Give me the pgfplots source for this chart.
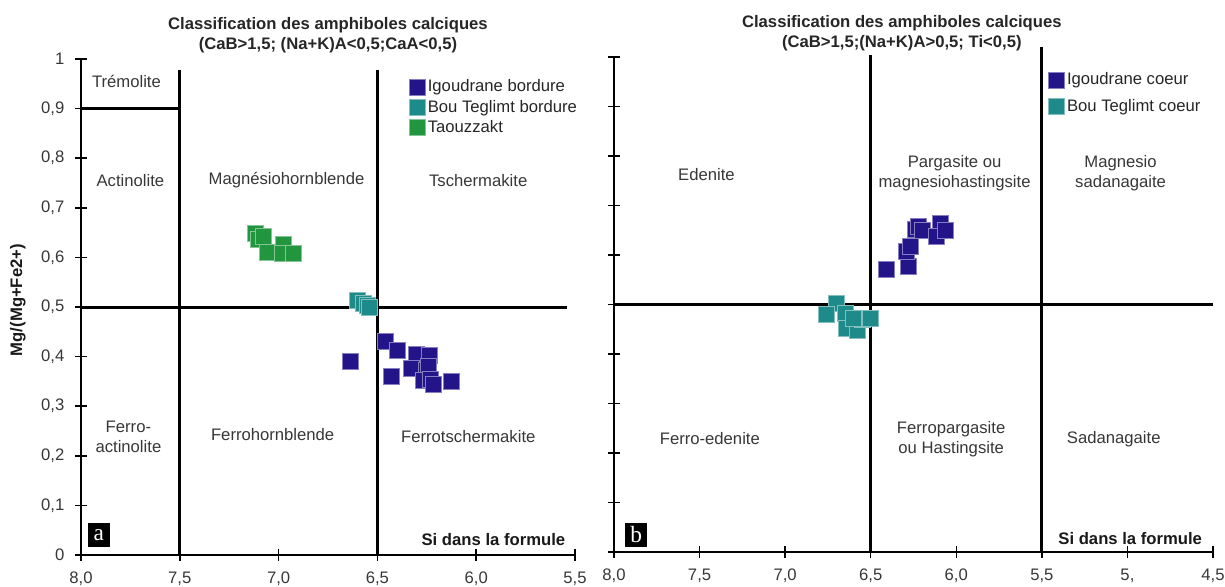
\documentclass[border=0pt]{standalone}
\usepackage{fontspec}
\setmainfont{Liberation Sans}
\newfontfamily\serifa{Liberation Serif}
\usepackage{pgfplots}
\pgfplotsset{compat=1.18}

\definecolor{igblue}{RGB}{36,20,138}
\definecolor{bteal}{RGB}{30,138,138}
\definecolor{tgreen}{RGB}{34,150,62}
\definecolor{lbl}{RGB}{55,55,55}

\pgfplotsset{
  amph/.style={
    scale only axis, x dir=reverse, ymin=0, ymax=1, clip=false,
    axis x line*=bottom, axis y line*=left,
    axis line style={-, line width=0.9pt, black},
    tick align=center, major tick length=7pt,
    tick style={line width=0.9pt, black},
    ytick={0,0.1,0.2,0.3,0.4,0.5,0.6,0.7,0.8,0.9,1},
    ticklabel style={font=\fontsize{10}{12}\selectfont, text=lbl},
    xticklabel style={yshift=-3pt},
    yticklabel style={xshift=-3pt},
    /pgf/number format/assume math mode=true,
    title style={font=\bfseries\fontsize{10}{12}\selectfont, align=center,
      text=black!85, yshift=-6pt},
    legend style={draw=none, fill=none, anchor=north west,
      font=\fontsize{10}{12}\selectfont, text=black!85, inner sep=0pt,
      nodes={inner sep=1.5pt}},
    legend cell align=left,
  },
  pts/.style={only marks, mark=square*, mark size=4.8pt,
    mark options={fill=#1, draw=#1!55!white, line width=0.5pt},
    legend image code/.code={\draw[##1] plot coordinates {(0.17cm,0cm)};}},
  cls/.style={no marks, line width=1.8pt, black, forget plot},
}
\tikzset{
  zone/.style={font=\fontsize{10}{12}\selectfont, text=lbl, align=center},
  tag/.style={fill=black, text=white, font=\serifa\fontsize{14}{14}\selectfont,
    inner sep=0pt, minimum width=13pt, minimum height=14.5pt},
  xname/.style={font=\bfseries\fontsize{10}{12}\selectfont, anchor=east, text=black!90},
}

\begin{document}
\begin{tikzpicture}
\useasboundingbox (-48.6pt,-18.6pt) rectangle (686.4pt,333pt);

% panel a
\begin{axis}[amph,
  at={(0pt,0pt)}, anchor=south west,
  width=296.4pt, height=297.6pt,
  xmin=5.5, xmax=8,
  xtick={5.5,6,6.5,7,7.5,8},
  xticklabels={{5,5},{6,0},{6,5},{7,0},{7,5},{8,0}},
  yticklabels={{0},{0,1},{0,2},{0,3},{0,4},{0,5},{0,6},{0,7},{0,8},{0,9},{1}},
  title={Classification des amphiboles calciques\\(CaB>1,5; (Na+K)A<0,5;CaA<0,5)},
  legend style={at={(axis cs:6.34,0.964)}, row sep=0.5pt},
]
\addplot[cls] coordinates {(7.5,0) (7.5,0.978)};
\addplot[cls] coordinates {(6.5,0) (6.5,0.978)};
\addplot[cls] coordinates {(8,0.9) (7.5,0.9)};
\addplot[cls] coordinates {(8,0.5) (5.54,0.5)};

\addplot[pts=igblue] coordinates {
  (6.635,0.390) (6.457,0.430) (6.400,0.413) (6.430,0.361) (6.305,0.405)
  (6.237,0.402) (6.327,0.376) (6.250,0.373) (6.240,0.380) (6.268,0.353)
  (6.234,0.355) (6.217,0.343) (6.124,0.349)
};
\addplot[pts=bteal] coordinates {
  (6.60,0.514) (6.57,0.508) (6.55,0.504) (6.54,0.500)
};
\addplot[pts=tgreen] coordinates {
  (7.116,0.649) (7.103,0.637) (7.079,0.643) (7.057,0.611)
  (6.976,0.627) (6.979,0.608) (6.926,0.608)
};
\legend{Igoudrane bordure, Bou Teglimt bordure, Taouzzakt}

\node[zone] at (axis cs:7.77,0.954) {Trémolite};
\node[zone] at (axis cs:7.75,0.755) {Actinolite};
\node[zone] at (axis cs:6.96,0.755) {Magnésiohornblende};
\node[zone] at (axis cs:5.99,0.755) {Tschermakite};
\node[zone] at (axis cs:7.76,0.238) {Ferro-\\actinolite};
\node[zone] at (axis cs:7.03,0.242) {Ferrohornblende};
\node[zone] at (axis cs:6.04,0.238) {Ferrotschermakite};
\node[tag] at (axis cs:7.91,0.040) {a};
\node[xname] at (axis cs:5.52,0.032) {Si dans la formule};
\node[rotate=90, font=\bfseries\fontsize{10}{12}\selectfont, text=black!90]
  at (axis cs:8.32,0.514) {Mg/(Mg+Fe2+)};
\end{axis}

% panel b
\begin{axis}[amph,
  at={(319.8pt,1.8pt)}, anchor=south west,
  width=359.4pt, height=297pt,
  xmin=4.5, xmax=8,
  xtick={4.5,5,5.5,6,6.5,7,7.5,8},
  xticklabels={{4,5},{5,},{5,5},{6,0},{6,5},{7,0},{7,5},{8,0}},
  yticklabels={},
  title={Classification des amphiboles calciques\\(CaB>1,5;(Na+K)A>0,5; Ti<0,5)},
  title style={xshift=-7pt},
  legend style={at={(axis cs:5.463,0.974)}, row sep=4pt},
]
\addplot[cls] coordinates {(6.5,0) (6.5,1.004)};
\addplot[cls] coordinates {(5.5,0) (5.5,1.02)};
\addplot[cls] coordinates {(8,0.5) (4.5,0.5)};

\addplot[pts=igblue] coordinates {
  (6.41,0.570) (6.28,0.576) (6.29,0.608) (6.27,0.618) (6.24,0.652)
  (6.22,0.657) (6.20,0.650) (6.095,0.664) (6.114,0.637) (6.065,0.649)
};
\addplot[pts=bteal] coordinates {
  (6.70,0.502) (6.757,0.479) (6.65,0.482) (6.644,0.452) (6.578,0.448)
  (6.55,0.469) (6.50,0.472) (6.60,0.472)
};
\legend{Igoudrane coeur, Bou Teglimt coeur}

\node[zone] at (axis cs:7.46,0.762) {Edenite};
\node[zone] at (axis cs:6.01,0.765) {Pargasite ou\\magnesiohastingsite};
\node[zone] at (axis cs:5.04,0.766) {Magnesio\\sadanagaite};
\node[zone] at (axis cs:7.44,0.230) {Ferro-edenite};
\node[zone] at (axis cs:6.03,0.228) {Ferropargasite\\ou Hastingsite};
\node[zone] at (axis cs:5.08,0.228) {Sadanagaite};
\node[tag] at (axis cs:7.87,0.035) {b};
\node[xname] at (axis cs:4.53,0.028) {Si dans la formule};
\end{axis}
\end{tikzpicture}
\end{document}
